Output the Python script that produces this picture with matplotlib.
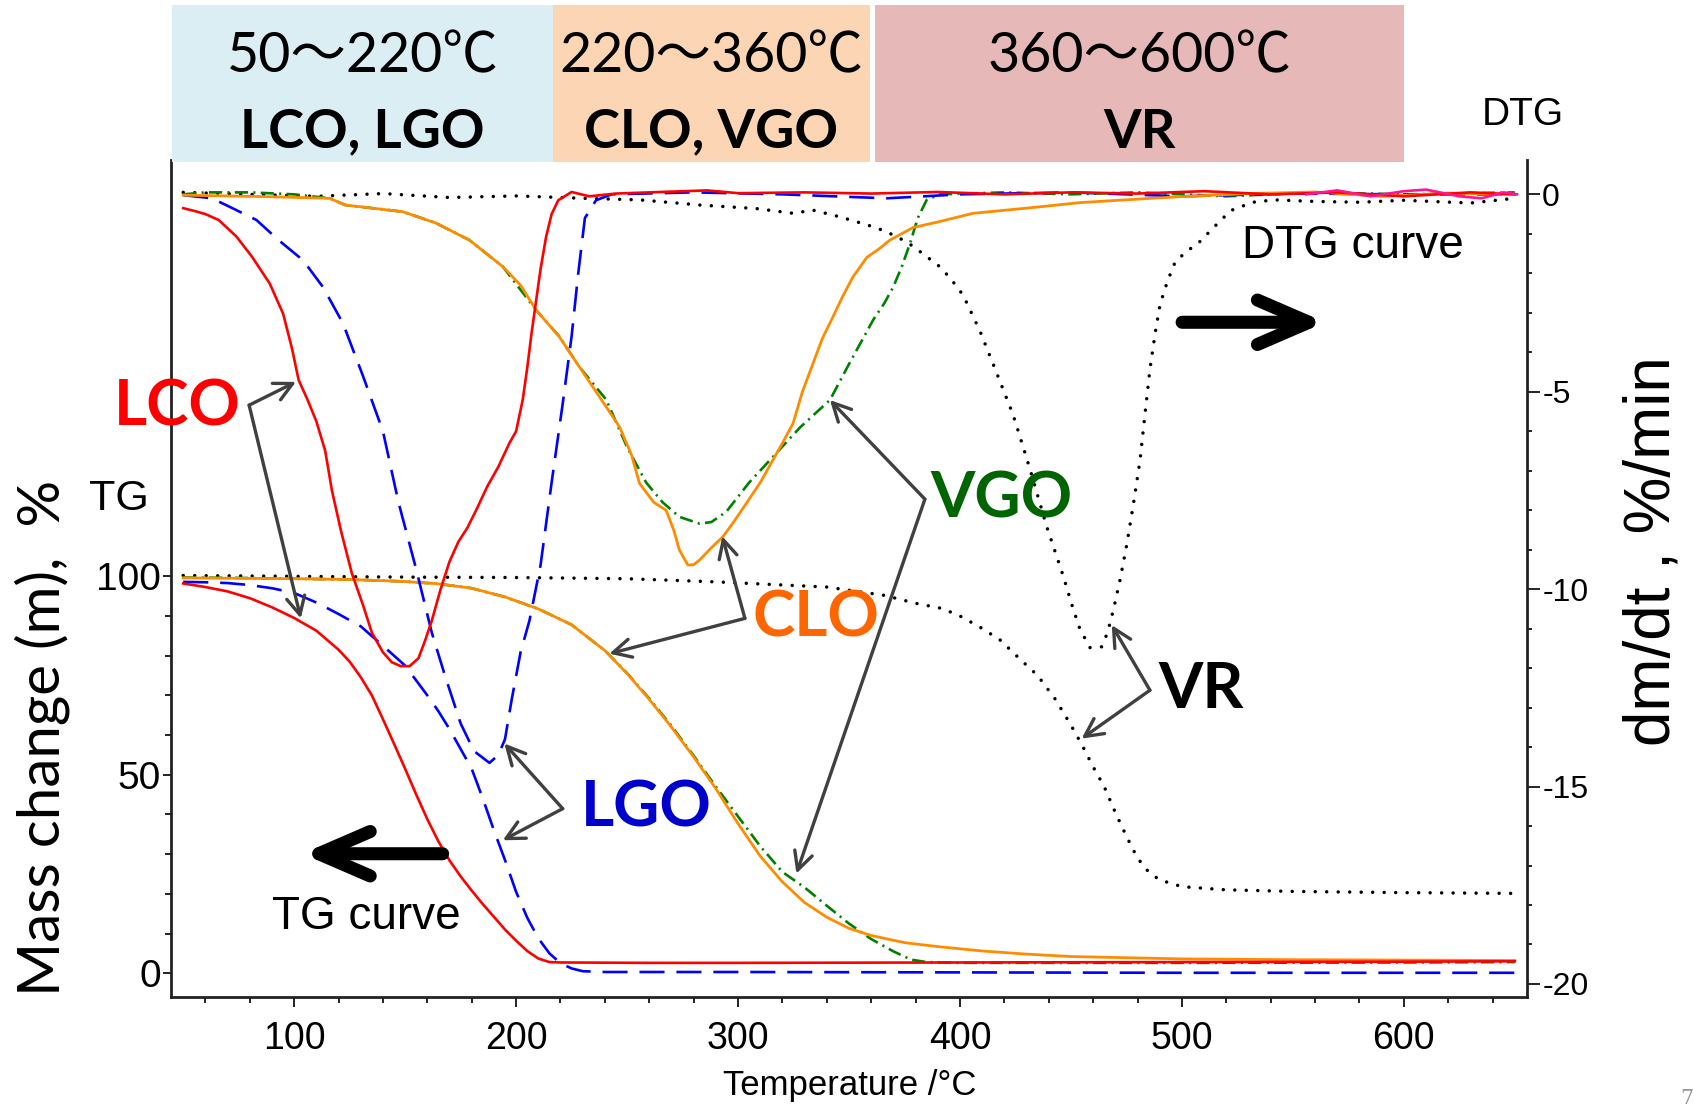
import numpy as np
import matplotlib
matplotlib.use('Agg')
import matplotlib.pyplot as plt
from matplotlib.patches import Rectangle

# ---------------- data ----------------
# TG curves (left axis, mass %)
lco_tg_t = [50, 60, 70, 80, 90, 100, 110, 120, 125, 130, 135, 140, 145, 150, 155, 160, 165,
            170, 175, 180, 185, 190, 195, 200, 205, 210, 215, 220, 260, 300, 400, 500, 600, 650]
lco_tg = [98.2, 97.3, 96.2, 94.5, 92.2, 89.5, 86.3, 81.5, 78.5, 74.6, 70.0, 64.0, 57.8, 51.5,
          45.0, 38.8, 33.2, 28.4, 24.4, 20.8, 17.4, 14.2, 11.0, 8.2, 5.6, 3.7, 2.8, 2.7, 2.6,
          2.6, 2.7, 2.8, 2.9, 3.0]

lgo_tg_t = [50, 60, 70, 80, 90, 100, 110, 120, 130, 140, 150, 160, 165, 170, 175, 180, 185, 190,
            195, 200, 205, 210, 215, 220, 225, 230, 240, 300, 400, 500, 600, 650]
lgo_tg = [98.6, 98.5, 98.3, 97.8, 97.0, 95.8, 93.4, 90.5, 87.4, 82.5, 77.5, 70.0, 66.0, 61.5,
          56.5, 51.5, 44.0, 36.0, 28.5, 20.5, 14.0, 8.8, 5.0, 2.5, 1.2, 0.5, 0.3, 0.3, 0.2,
          0.1, 0.1, 0.1]

clo_tg_t = [50, 75, 100, 125, 150, 165, 180, 195, 210, 225, 240, 250, 260, 270, 280, 290, 300,
            310, 320, 330, 340, 350, 360, 375, 390, 410, 430, 450, 500, 550, 600, 650]
clo_tg = [99.6, 99.5, 99.4, 99.2, 98.7, 98.1, 97.0, 94.8, 91.8, 87.8, 81.3, 75.5, 69.0, 62.0,
          54.5, 46.5, 37.7, 29.5, 23.0, 17.8, 14.1, 11.3, 9.5, 7.7, 6.7, 5.6, 4.8, 4.2, 3.6,
          3.4, 3.3, 3.2]

vgo_tg_t = [50, 75, 100, 125, 150, 165, 180, 195, 210, 225, 240, 250, 260, 270, 280, 290, 300,
            310, 320, 330, 340, 350, 360, 370, 378, 385, 400, 500, 600, 650]
vgo_tg = [99.7, 99.6, 99.4, 99.2, 98.7, 98.1, 97.0, 94.8, 91.8, 87.8, 81.3, 75.6, 69.2, 62.3,
          54.8, 47.0, 39.5, 32.0, 25.5, 21.6, 17.0, 12.5, 8.6, 5.5, 3.4, 2.8, 2.6, 2.6, 2.7, 2.8]

vr_tg_t = [50, 100, 150, 200, 250, 290, 340, 366, 380, 392, 400, 409, 418, 426, 435, 443, 450,
           455, 460, 465, 470, 475, 480, 485, 490, 500, 520, 550, 600, 650]
vr_tg = [100.2, 100.0, 99.8, 99.7, 99.4, 98.6, 97.3, 95.2, 93.2, 91.9, 90.0, 87.2, 84.0, 79.7,
         75.0, 69.0, 62.5, 57.5, 52.0, 47.0, 40.5, 34.5, 29.0, 25.5, 23.5, 21.8, 21.0, 20.6,
         20.3, 20.1]

# DTG curves (right axis, %/min)
lco_dtg_t = [50, 55, 60, 66, 74, 81, 89, 95, 99, 102, 106, 110, 114, 117, 121, 126, 131, 135,
             140, 144, 148, 152, 156, 159, 162, 166, 170, 174, 178, 182, 187, 192, 197, 200,
             203, 205, 207, 209, 211, 213.5, 216, 219, 225, 233, 245, 260, 286, 300, 330, 360,
             390, 420, 450, 480, 510, 540, 570, 600, 630, 650]
lco_dtg = [-0.35, -0.42, -0.5, -0.65, -1.07, -1.58, -2.26, -3.02, -3.9, -4.7, -5.2, -5.75,
           -6.5, -7.5, -8.5, -9.6, -10.4, -11.1, -11.6, -11.85, -11.95, -11.95, -11.75,
           -11.3, -10.8, -10.0, -9.3, -8.8, -8.45, -8.0, -7.4, -6.9, -6.3, -6.0, -5.2, -4.4,
           -3.5, -2.7, -1.9, -1.08, -0.5, -0.15, 0.06, -0.05, 0.02, 0.05, 0.1, 0.03, 0.05,
           0.02, 0.06, 0.0, 0.05, 0.02, 0.08, 0.0, 0.05, -0.05, 0.05, 0.0]

lgo_dtg_t = [50, 63, 74, 83, 93, 104, 113, 122, 131, 140, 147, 155, 162, 168, 175, 181, 188,
             192, 195, 198, 202, 206, 211, 216, 221, 225, 228, 231, 236, 243, 280, 320, 367,
             400, 450, 500, 550, 600, 650]
lgo_dtg = [-0.02, -0.1, -0.4, -0.65, -1.16, -1.67, -2.35, -3.27, -4.6, -6.0, -7.8, -9.5,
           -11.1, -12.2, -13.4, -14.1, -14.4, -14.2, -13.8, -12.8, -11.6, -10.8, -9.4, -7.3,
           -5.3, -3.6, -2.0, -0.6, -0.15, 0.0, 0.05, 0.0, -0.1, 0.0, 0.05, -0.05, 0.02, 0.0, 0.0]

vgo_dtg_t = [50, 60, 80, 100, 116, 123, 149, 164, 179, 194, 209, 219.5, 228.5, 240.6, 250,
             258.6, 266, 273.6, 282.7, 288, 294.7, 305, 315.7, 328, 341.4, 350, 360.9, 366,
             370, 374, 377.5, 381, 385, 391, 420, 450, 480, 520, 560, 600, 650]
vgo_dtg = [0.0, 0.05, 0.05, 0.0, -0.1, -0.27, -0.44, -0.73, -1.16, -1.83, -2.93, -3.6, -4.37,
           -5.2, -6.4, -7.3, -7.8, -8.17, -8.34, -8.3, -8.04, -7.3, -6.65, -5.9, -5.21, -4.3,
           -3.18, -2.75, -2.34, -1.8, -1.24, -0.6, -0.14, 0.0, 0.05, 0.0, 0.05, -0.05, 0.05,
           0.0, 0.05]

clo_dtg_t = [50, 89, 116, 123, 149, 164, 179, 194, 202, 209, 219.5, 228.5, 237.6, 246.6, 252,
             255.6, 262, 267.6, 271, 273.6, 277.4, 280, 282.7, 288, 293.2, 298, 303.7, 310,
             315.7, 320, 324.8, 329, 333.8, 338, 342.8, 347, 351.8, 358, 363.8, 368.4, 378.9,
             390, 405.9, 430, 454, 480, 499, 530, 560, 590, 620, 650]
clo_dtg = [-0.02, -0.06, -0.1, -0.27, -0.44, -0.73, -1.16, -1.83, -2.3, -2.93, -3.61, -4.37,
           -5.13, -5.89, -6.6, -7.32, -7.8, -8.0, -8.5, -9.01, -9.39, -9.38, -9.26, -8.95,
           -8.67, -8.3, -7.83, -7.3, -6.73, -6.3, -5.8, -5.0, -4.28, -3.65, -3.1, -2.6, -2.09,
           -1.6, -1.37, -1.16, -0.84, -0.7, -0.48, -0.35, -0.21, -0.12, -0.06, 0.02, 0.06,
           -0.05, 0.03, 0.0]

vr_dtg_t = [50, 80, 110, 140, 170, 200, 210.5, 230, 255.6, 282.7, 308.2, 324.8, 333.8, 345.9,
            360.9, 367, 375.9, 382, 390.9, 396, 401.4, 409, 416.5, 424, 431.5, 439, 446.5, 451,
            454.1, 458.6, 463.8, 466.5, 469.1, 472, 475.1, 478, 481.1, 483.5, 485.6, 488,
            490.2, 493.5, 497, 502, 507.5, 515, 522, 532, 541.6, 560, 580, 600, 630, 650]
vr_dtg = [0.05, 0.0, -0.05, 0.02, -0.08, -0.04, -0.06, -0.1, -0.14, -0.27, -0.36, -0.48, -0.4,
          -0.57, -0.82, -0.95, -1.2, -1.45, -1.83, -2.15, -2.55, -3.46, -4.52, -5.59, -6.95,
          -8.4, -9.66, -10.5, -11.02, -11.48, -11.46, -11.1, -10.53, -9.8, -8.89, -7.9, -6.75,
          -5.5, -4.43, -3.5, -2.78, -2.2, -1.71, -1.45, -1.23, -0.8, -0.41, -0.2, -0.14,
          -0.18, -0.2, -0.15, -0.22, -0.1]

pink_dtg_t = [556, 570, 585, 600, 610, 625, 635, 645, 651]
pink_dtg = [0.0, 0.1, -0.05, 0.08, 0.12, -0.05, -0.1, 0.05, 0.0]

x_major = [100, 200, 300, 400, 500, 600]
tg_major = [0, 50, 100]
dtg_major = [0, -5, -10, -15, -20]

band_labels = [('50～220℃', 'LCO, LGO'), ('220～360℃', 'CLO, VGO'), ('360～600℃', 'VR')]
band_colors = ['#DAEEF3', '#FCD5B5', '#E6B9B8']

# ---------------- styling ----------------
NARROW = ['Liberation Sans Narrow', 'Liberation Sans', 'DejaVu Sans']
ARIAL = ['Liberation Sans', 'DejaVu Sans']
BOX = ['Lato', 'Noto Sans CJK JP', 'DejaVu Sans']
HAND = ['Lato', 'DejaVu Sans']
plt.rcParams['font.family'] = NARROW
plt.rcParams['axes.unicode_minus'] = False

W, H = 1693, 1110
fig = plt.figure(figsize=(W / 100, H / 100), dpi=100)
fig.patch.set_facecolor('white')


def fx(px):
    return px / W


def fy(py):
    return 1 - py / H


ax = fig.add_axes([fx(171), fy(997), (1527 - 171) / W, (997 - 160) / H])
ax2 = ax.twinx()

# TG curves
ax.plot(vr_tg_t, vr_tg, color='black', lw=2.5, linestyle=(0, (0.01, 3.3)), dash_capstyle='round')
ax.plot(vgo_tg_t, vgo_tg, color='#008000', lw=1.9, linestyle=(0, (5, 2, 0.8, 2)))
ax.plot(lgo_tg_t, lgo_tg, color='#0000FF', lw=1.9, linestyle=(0, (9.5, 4.5)))
ax.plot(clo_tg_t, clo_tg, color='#FF8C00', lw=2.0)
ax.plot(lco_tg_t, lco_tg, color='#FF0000', lw=1.9)

# DTG curves
ax2.plot(vr_dtg_t, vr_dtg, color='black', lw=2.5, linestyle=(0, (0.01, 3.3)), dash_capstyle='round')
ax2.plot(vgo_dtg_t, vgo_dtg, color='#008000', lw=1.9, linestyle=(0, (5, 2, 0.8, 2)))
ax2.plot(lgo_dtg_t, lgo_dtg, color='#0000FF', lw=1.9, linestyle=(0, (9.5, 4.5)))
ax2.plot(clo_dtg_t, clo_dtg, color='#FF8C00', lw=2.0)
ax2.plot(lco_dtg_t, lco_dtg, color='#FF0000', lw=1.9)
ax2.plot(pink_dtg_t, pink_dtg, color='#FF1493', lw=1.9)

ax.set_xlim(44.5, 655.5)
ax.set_ylim(-6.0, 204.9)
ax2.set_ylim(-20.33, 0.87)

ax.set_xticks(x_major)
ax.set_xticks([t for t in range(60, 660, 20) if t not in x_major], minor=True)
ax.set_yticks(tg_major)
ax.set_yticks([v for v in range(10, 100, 10) if v != 50], minor=True)
ax2.set_yticks(dtg_major)
ax2.set_yticks([v for v in range(-19, 0) if v not in dtg_major], minor=True)

for a in (ax, ax2):
    a.spines['top'].set_visible(False)
    for s in a.spines.values():
        s.set_linewidth(2.0)
        s.set_color('#222222')
ax.spines['right'].set_visible(False)
ax2.spines['left'].set_visible(False)
ax2.spines['bottom'].set_visible(False)

ax.tick_params(axis='x', which='major', length=7, width=1.4, labelsize=27, pad=10, color='#222222')
ax.tick_params(axis='x', which='minor', length=4.3, width=1.4, color='#222222')
ax.tick_params(axis='y', which='major', length=5.8, width=1.4, labelsize=28, pad=1.5, color='#222222')
ax.tick_params(axis='y', which='minor', length=4.3, width=1.4, color='#222222')
ax2.tick_params(axis='y', which='major', length=9.4, width=1.4, labelsize=23, pad=1.5, color='#222222')
ax2.tick_params(axis='y', which='minor', length=3.6, width=1.4, color='#222222')
for lab in ax2.get_yticklabels():
    lab.set_family(ARIAL)

# axis titles
fig.text(fx(42), fy(738), 'Mass change (m),  %', rotation=90, ha='center', va='center',
         fontsize=42, family=HAND)
fig.text(fx(1653), fy(551), 'dm/dt , %/min', rotation=90, ha='center', va='center',
         fontsize=46, family=NARROW)
fig.text(fx(850), fy(1085), 'Temperature /°C', ha='center', va='center', fontsize=25)
fig.text(fx(119), fy(499), 'TG', ha='center', va='center', fontsize=31)
fig.text(fx(1523), fy(115), 'DTG', ha='center', va='center', fontsize=28, family=ARIAL)

# temperature bands on top
band_x = [(172, 553), (553, 869.5), (875, 1404)]
for (x0, x1), col, (t1, t2) in zip(band_x, band_colors, band_labels):
    fig.patches.append(Rectangle((fx(x0), fy(162)), (x1 - x0) / W, 157 / H,
                                 transform=fig.transFigure, facecolor=col, edgecolor='none'))
    xc = fx((x0 + x1) / 2)
    fig.text(xc, fy(57), t1, ha='center', va='center', fontsize=40, family=BOX)
    fig.text(xc, fy(132), t2, ha='center', va='center', fontsize=39, family=BOX, fontweight='bold')

# sample labels with pointer arrows
gray = '#404040'
head = dict(arrowstyle='->,head_length=0.65,head_width=0.33', color=gray, lw=2.4,
            shrinkA=0, shrinkB=0, mutation_scale=20)
# (label, colour, text position, vertex, DTG tip, TG tip)  -- positions on DTG axis / TG axis
labels = [
    ('LCO', '#FF0000', (47.2, -5.39), (79.7, -5.34), (100.8, -4.75), (103.0, 89.4)),
    ('VGO', '#006400', (418.5, -7.72), (384.2, -7.72), (341.4, -5.21), (326.3, 25.1)),
    ('CLO', '#FF6600', (335.0, -10.73), (303.1, -10.74), (292.9, -8.66), (242.0, 80.5)),
    ('LGO', '#0000CC', (258.8, -15.55), (221.0, -15.56), (194.7, -13.91), (194.0, 33.5)),
    ('VR', 'black', (508.7, -12.54), (485.6, -12.56), (468.4, -10.91), (454.8, 59.1)),
]
for name, col, tpos, vert, tip_dtg, tip_tg in labels:
    ax2.text(tpos[0], tpos[1], name, color=col, fontsize=46, fontweight='bold', family=HAND,
             ha='center', va='center', clip_on=False)
    ax2.annotate('', xy=tip_dtg, xycoords=ax2.transData, xytext=vert, textcoords=ax2.transData,
                 arrowprops=head, annotation_clip=False)
    ax2.annotate('', xy=tip_tg, xycoords=ax.transData, xytext=vert, textcoords=ax2.transData,
                 arrowprops=head, annotation_clip=False)

# big black direction arrows
big = dict(arrowstyle='->,head_length=1.85,head_width=0.8', color='black', lw=9.4,
           shrinkA=0, shrinkB=0, mutation_scale=20, capstyle='round', joinstyle='round')
ax2.annotate('', xy=(564.6, -3.24), xytext=(500.1, -3.24), arrowprops=big)
ax.annotate('', xy=(103.7, 30.1), xytext=(166.9, 30.1), arrowprops=big)
ax2.text(577.2, -1.31, 'DTG curve', ha='center', va='center', fontsize=33, family=ARIAL)
ax.text(132.3, 14.1, 'TG curve', ha='center', va='center', fontsize=33, family=ARIAL)

# slide page number in the corner
fig.text(fx(1680), fy(1108), '7', ha='left', va='bottom', fontsize=15, color='#999999',
         family='DejaVu Serif')

fig.savefig('out.png', dpi=100, facecolor='white')
